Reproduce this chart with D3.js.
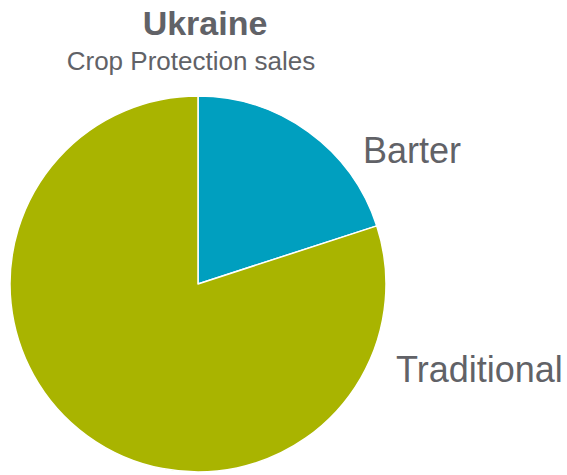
<!DOCTYPE html>
<html>
<head>
<meta charset="utf-8">
<script src="https://cdn.jsdelivr.net/npm/d3@7"></script>
<style>
  body { margin: 0; background: #fff; }
  text { font-family: "Liberation Sans", Arial, sans-serif; fill: #616267; }
</style>
</head>
<body>
<div class="pie_chart"></div>
<script>
// chart data
var categories = ["Barter", "Traditional"];
var shares = [20, 80];
var colours = ["#009FBF", "#A9B400"];

var svg = d3.select(".pie_chart").append("svg").attr("width", 567).attr("height", 475),
    cx = 198,
    cy = 284,
    radius = 188;

var data = categories.map((c, i) => ({ name: c, value: shares[i] }));

var pie = d3.pie().sort(null).value(d => d.value),
    arc = d3.arc().innerRadius(0).outerRadius(radius),
    colour = d3.scaleOrdinal().domain(categories).range(colours);

var g = svg.append("g").attr("transform", `translate(${cx},${cy})`);

g.selectAll(".slice")
  .data(pie(data))
  .enter().append("path")
    .attr("class", "slice")
    .attr("d", arc)
    .attr("fill", d => colour(d.data.name))
    .attr("stroke", "#fff")
    .attr("stroke-width", 1.5)
    .attr("stroke-linejoin", "round");

// titles
svg.append("text")
    .attr("x", 205).attr("y", 35)
    .attr("text-anchor", "middle")
    .style("font-size", "34px")
    .style("font-weight", "bold")
    .text("Ukraine");

svg.append("text")
    .attr("x", 191).attr("y", 70)
    .attr("text-anchor", "middle")
    .style("font-size", "26px")
    .text("Crop Protection sales");

// slice labels, placed outside the pie
var labelPos = { "Barter": [363, 163], "Traditional": [396, 382] };

svg.selectAll(".label")
  .data(data)
  .enter().append("text")
    .attr("class", "label")
    .attr("x", d => labelPos[d.name][0])
    .attr("y", d => labelPos[d.name][1])
    .style("font-size", "36px")
    .text(d => d.name);
</script>
</body>
</html>
